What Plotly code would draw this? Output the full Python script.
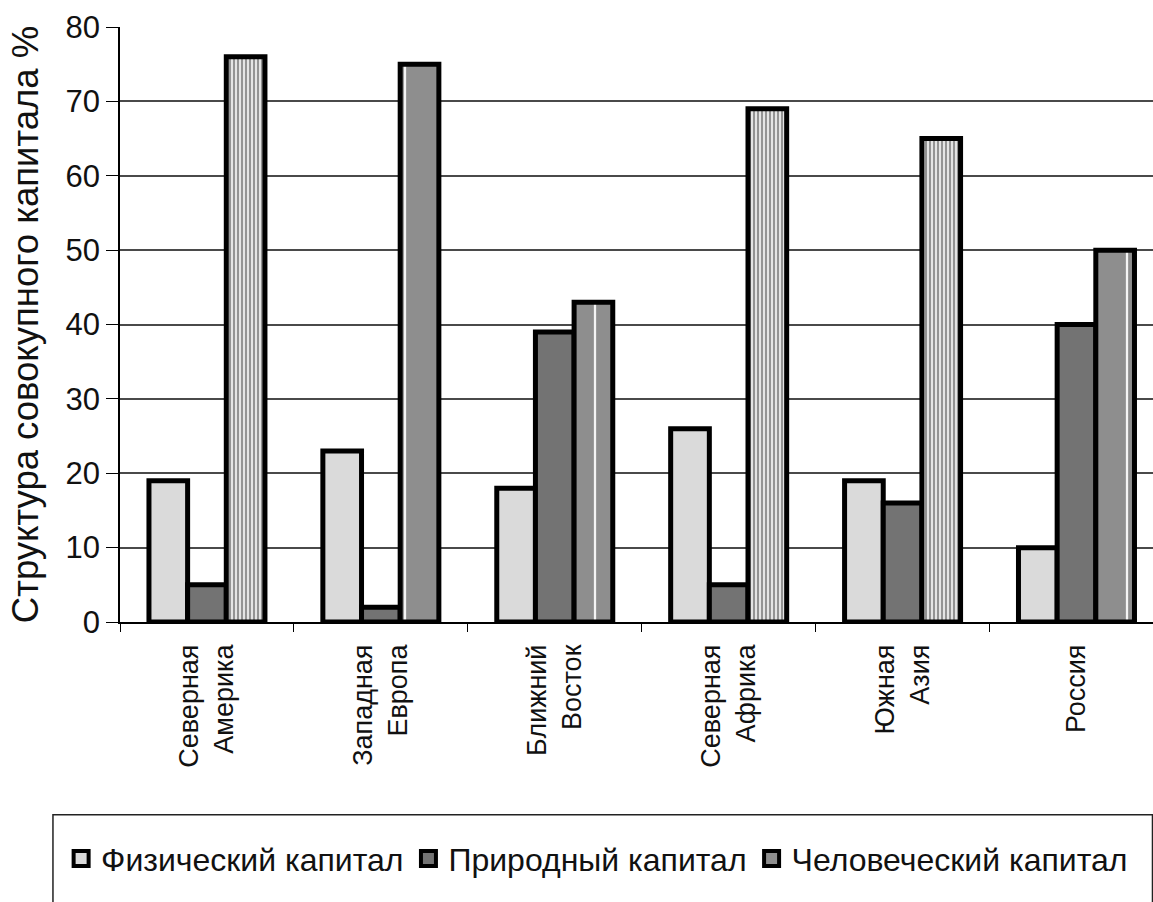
import plotly.graph_objects as go

regions = ["Северная<br>Америка", "Западная<br>Европа", "Ближний<br>Восток",
           "Северная<br>Африка", "Южная<br>Азия", "Россия"]
physical = [19, 23, 18, 26, 19, 10]
natural = [5, 2, 39, 5, 16, 40]
human = [76, 75, 43, 69, 65, 50]

series_names = ["Физический капитал", "Природный капитал", "Человеческий капитал"]
series_fill = ["#dadada", "#737373", "#8e8e8e"]

# fill styles for the human-capital bars: fine stripes or grey with a white rule
human_shape = ["|", "|", "|", "|", "|", "|"]
human_bg = ["#e4e4e4", "#8e8e8e", "#8e8e8e", "#e4e4e4", "#e4e4e4", "#8e8e8e"]
human_fg = ["#8a8a8a", "#f4f4f4", "#f4f4f4", "#8a8a8a", "#8a8a8a", "#f4f4f4"]
human_size = [4, 38, 38, 4, 4, 38]
human_solid = [0.45, 0.06, 0.06, 0.45, 0.45, 0.06]

FONT = "Liberation Sans, Arial, sans-serif"
outline = dict(color="black", width=5)

fig = go.Figure()
fig.add_trace(go.Bar(x=regions, y=physical, name=series_names[0], legendgroup="p",
                     showlegend=False,
                     marker=dict(color=series_fill[0], line=outline)))
fig.add_trace(go.Bar(x=regions, y=natural, name=series_names[1], legendgroup="n",
                     showlegend=False,
                     marker=dict(color=series_fill[1], line=outline)))
fig.add_trace(go.Bar(x=regions, y=human, name=series_names[2], legendgroup="h",
                     showlegend=False,
                     marker=dict(color=series_fill[2], line=outline,
                                 pattern=dict(shape=human_shape, bgcolor=human_bg,
                                              fgcolor=human_fg, size=human_size,
                                              solidity=human_solid, fillmode="replace"))))

# legend keys: square swatches with a heavy black frame
for name, fill, grp in zip(series_names, series_fill, ["p", "n", "h"]):
    fig.add_trace(go.Scatter(x=[None], y=[None], mode="markers", name=name,
                             legendgroup=grp, hoverinfo="skip",
                             marker=dict(symbol="square", size=15, color=fill,
                                         line=dict(color="black", width=4))))

fig.update_layout(
    width=1153, height=902,
    margin=dict(l=120, r=0, t=27, b=280),
    paper_bgcolor="white", plot_bgcolor="white",
    barmode="group", bargap=0.333, bargroupgap=0,
    font=dict(family=FONT, size=26, color="#111111"),
    showlegend=True,
    legend=dict(orientation="h", x=-0.057, xanchor="left", y=-0.398, yanchor="middle",
                font=dict(family=FONT, size=32, color="#111111"),
                itemwidth=30, itemsizing="trace", bgcolor="rgba(0,0,0,0)",
                traceorder="normal"),
    shapes=[dict(type="rect", xref="paper", yref="paper",
                 x0=-0.0649, x1=0.9995, y0=-0.324, y1=-0.49,
                 line=dict(color="#222222", width=1.5), fillcolor="rgba(0,0,0,0)")],
)

fig.update_xaxes(
    range=[-0.5, 5.44], tickangle=-90, tickson="boundaries", ticks="outside",
    ticklen=8, tickcolor="black", showline=True, linecolor="black", linewidth=1.5,
    ticklabelstandoff=10,
    tickfont=dict(family=FONT, size=27, color="#111111"), showgrid=False,
)
fig.update_yaxes(
    range=[0, 80], dtick=10, ticks="outside", ticklen=12, tickcolor="black",
    showline=True, linecolor="black", linewidth=1.5,
    showgrid=True, gridcolor="#4a4a4a", gridwidth=1.5, zeroline=False,
    tickfont=dict(family=FONT, size=31, color="#111111"),
    title=dict(text="Структура совокупного капитала %", standoff=16,
               font=dict(family=FONT, size=36.5, color="#111111")),
)

fig.write_html("out.html")
